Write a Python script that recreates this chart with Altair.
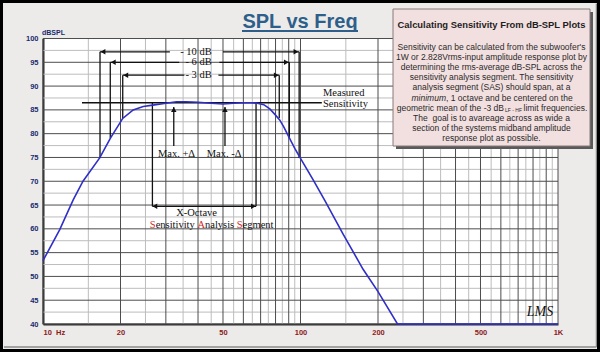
import altair as alt
import pandas as pd

# ---------------- data ----------------
freq = [10, 11.6, 13.1, 14.3, 16.6, 18.3, 20.4, 22.4, 24.5, 26.7, 30, 33, 36, 40, 45, 50, 55, 60,
        65, 68, 72, 76, 80, 83, 86, 90.5, 95, 100, 112, 125, 146, 175, 200, 238, 1000]
spl = [53.3, 59.8, 66.1, 70.0, 74.9, 79.1, 83.2, 85.0, 85.7, 86.0, 86.4, 86.7, 86.7, 86.6, 86.4, 86.25, 86.4, 86.5,
       86.5, 86.4, 86.1, 85.2, 83.9, 82.9, 81.5, 79.1, 76.9, 74.8, 70.3, 65.7, 59.0, 51.5, 46.8, 40.0, 40.0]

x_tick_values = [10, 20, 50, 100, 200, 500, 1000]
x_tick_labels = ["10\u00a0\u00a0Hz", "20", "50", "100", "200", "500", "1K"]
y_tick_values = [40, 45, 50, 55, 60, 65, 70, 75, 80, 85, 90, 95, 100]

x_grid_major = [10, 20, 30, 40, 50, 60, 70, 80, 90, 100, 200, 300, 400, 500, 600, 700, 800, 900, 1000]
x_grid_minor = [15, 25, 35, 45, 55, 65, 75, 85, 95, 150, 250, 350, 450, 550, 650, 750, 850, 950]
y_grid_major = y_tick_values
y_grid_minor = [42.5, 47.5, 52.5, 57.5, 62.5, 67.5, 72.5, 77.5, 82.5, 87.5, 92.5, 97.5]

# annotation segments (Hz, dB)
seg_f1 = [16.65, 98.8, 16.65, 50.0, 18.25, 90.5, 18.25, 48.4, 20.4, 82.7, 20.4, 48.0,
          14.17, 32.2, 50.9, 26.6, 67.2, 26.6]
seg_db1 = [97.2, 97.2, 97.2, 97.2, 95.0, 95.0, 95.0, 95.0, 92.3, 92.3, 92.3, 92.3,
           86.5, 85.6, 85.6, 86.5, 86.5, 64.74]
seg_f2 = [16.65, 98.8, 31.1, 98.8, 18.25, 90.5, 33.8, 90.5, 20.4, 82.7, 35.4, 82.7,
          121.0, 32.2, 50.9, 26.6, 67.2, 67.2]
seg_db2 = [74.9, 74.9, 97.2, 97.2, 79.1, 79.1, 95.0, 95.0, 83.3, 83.3, 92.3, 92.3,
           86.5, 77.4, 77.4, 64.74, 64.74, 64.74]

head_f = [17.1, 96.0, 18.75, 88.1, 20.97, 80.5, 32.2, 50.9, 27.2, 65.6]
head_db = [97.2, 97.2, 95.0, 95.0, 92.3, 92.3, 85.05, 85.05, 64.74, 64.74]
head_shape = ["triangle-left", "triangle-right", "triangle-left", "triangle-right",
              "triangle-left", "triangle-right", "triangle-up", "triangle-up",
              "triangle-left", "triangle-right"]

right_text = ["- 10 dB", "- 6 dB", "- 3 dB"]
right_f = [45.2, 45.2, 45.2]
right_db = [97.2, 95.0, 92.3]

left_text = ["Measured", "Sensitivity", "X-Octave"]
left_f = [122.3, 122.3, 32.9]
left_db = [88.46, 86.2, 63.33]

center_text = ["Max. +\u0394", "Max. -\u0394"]
center_f = [33.0, 50.5]
center_db = [75.68, 75.68]

sas_pieces = ["S", "ensitivity", "A", "nalysis", "S", "egment"]
sas_em = [0.556, 3.973, 0.722, 3.028, 0.556, 2.944]   # Times em widths incl. following space
sas_colors = ["#D42A2A", "#111111", "#D42A2A", "#111111", "#D42A2A", "#111111"]
sas_f = 26.0
sas_db = 60.74

box_title = "Calculating Sensitivity From dB-SPL Plots"
box_lines = [
    "Sensitivity can be calculated from the subwoofer's",
    "1W or 2.828Vrms-input amplitude response plot by",
    "determining the rms-average dB-SPL across the",
    "sensitivity analysis segment. The sensitivity",
    "analysis segment (SAS) should span, at a",
    None,
    None,
    "The\u00a0\u00a0goal is to avareage across as wide a",
    "section of the systems midband amplitude",
    "response plot as possible.",
]

# ---------------- layout constants ----------------
W, H = 515, 285.5
PL, PT = 43, 38.5
SERIF = "Liberation Serif"
SANS = "Liberation Sans"
FS = 10.5

xs = alt.Scale(type="log", domain=[10, 1000], nice=False)
ys = alt.Scale(domain=[40, 100], nice=False, zero=False)

label_expr = " : ".join(
    f"datum.value == {v} ? '{t}'" for v, t in zip(x_tick_values, x_tick_labels)) + " : ''"

x_axis = alt.Axis(values=x_tick_values, labelExpr=label_expr, title=None, ticks=False,
                  grid=False, domain=True, domainColor="#2a2a2a", domainWidth=2,
                  labelFont=SANS, labelFontWeight="bold", labelFontSize=7.5,
                  labelColor="#8B1A1A", labelPadding=4, labelOverlap=False,
                  labelFlush=False, labelBound=False,
                  labelAlign=alt.condition("datum.value <= 10", alt.value("left"), alt.value("center")))
y_axis = alt.Axis(values=y_tick_values, title=None, ticks=False, grid=False, domain=True,
                  domainColor="#2a2a2a", domainWidth=2,
                  labelFont=SANS, labelFontWeight="bold", labelFontSize=7.5,
                  labelColor="#1B2A6E", labelPadding=5, labelOverlap=False,
                  labelFlush=False, labelBound=False)


def X(field):
    return alt.X(field, type="quantitative", scale=xs, axis=x_axis)


def Y(field):
    return alt.Y(field, type="quantitative", scale=ys, axis=y_axis)


one = alt.Data(values=[{}])


def dtext(text, x, y, **kw):
    return alt.Chart(one).mark_text(text=text, **kw).encode(
        x=alt.value(x), y=alt.value(y))


def drect(x, x2, y, y2, **kw):
    return alt.Chart(one).mark_rect(**kw).encode(
        x=alt.value(x), x2=alt.value(x2), y=alt.value(y), y2=alt.value(y2))


# ---------------- grid ----------------
gx_minor = alt.Chart(pd.DataFrame({"f": x_grid_minor})).mark_rule(
    color="#bdbdbd", strokeWidth=1).encode(x=X("f"))
gy_minor = alt.Chart(pd.DataFrame({"d": y_grid_minor})).mark_rule(
    color="#bdbdbd", strokeWidth=1).encode(y=Y("d"))
gx_major = alt.Chart(pd.DataFrame({"f": x_grid_major})).mark_rule(
    color="#4d4d4d", strokeWidth=1).encode(x=X("f"))
gy_major = alt.Chart(pd.DataFrame({"d": y_grid_major})).mark_rule(
    color="#4d4d4d", strokeWidth=1).encode(y=Y("d"))

# ---------------- curve ----------------
curve_df = pd.DataFrame({"f": freq, "spl": spl})
curve = alt.Chart(curve_df).mark_line(color="#2F2FC8", strokeWidth=1.6).encode(
    x=X("f"), y=Y("spl"))

# ---------------- annotations ----------------
seg_df = pd.DataFrame({"f1": seg_f1, "d1": seg_db1, "f2": seg_f2, "d2": seg_db2})
segs = alt.Chart(seg_df).mark_rule(color="#111111", strokeWidth=1.3).encode(
    x=X("f1"), x2="f2", y=Y("d1"), y2="d2")

head_df = pd.DataFrame({"f": head_f, "d": head_db, "s": head_shape})
heads = alt.Chart(head_df).mark_point(filled=True, color="#111111", size=30, opacity=1).encode(
    x=X("f"), y=Y("d"), shape=alt.Shape("s:N", scale=None))

rt = alt.Chart(pd.DataFrame({"f": right_f, "d": right_db, "t": right_text})).mark_text(
    font=SERIF, fontSize=FS, align="right", baseline="middle", color="#111111").encode(
    x=X("f"), y=Y("d"), text="t:N")
lt = alt.Chart(pd.DataFrame({"f": left_f, "d": left_db, "t": left_text})).mark_text(
    font=SERIF, fontSize=FS, align="left", baseline="middle", color="#111111").encode(
    x=X("f"), y=Y("d"), text="t:N")
ct = alt.Chart(pd.DataFrame({"f": center_f, "d": center_db, "t": center_text})).mark_text(
    font=SERIF, fontSize=FS, align="center", baseline="middle", color="#111111").encode(
    x=X("f"), y=Y("d"), text="t:N")

sas_layers = []
acc = 0.0
for piece, w, col in zip(sas_pieces, sas_em, sas_colors):
    sas_layers.append(
        alt.Chart(pd.DataFrame({"f": [sas_f], "d": [sas_db], "t": [piece]})).mark_text(
            font=SERIF, fontSize=FS, align="left", baseline="middle", color=col, dx=acc
        ).encode(x=X("f"), y=Y("d"), text="t:N"))
    acc += w * FS

# ---------------- decorations ----------------
deco = []
deco.append(dtext("SPL vs Freq", 257, -10.8, font=SANS, fontSize=20, fontWeight="bold",
                  color="#2D5F8A", align="center", baseline="alphabetic"))
deco.append(drect(199, 315, -8.5, -6.5, color="#2D5F8A"))
deco.append(dtext("dBSPL", -1, -5.5, font=SANS, fontSize=7, fontWeight="bold",
                  color="#1B2A6E", align="left", baseline="middle"))
# info box
deco.append(drect(353, 550, -26.5, 110.5, color="#5a5a5a"))
deco.append(drect(350, 547, -29.5, 107.5, fill="#F2DFDF", stroke="#8a7a7a", strokeWidth=1))
bx = 448.5
deco.append(dtext(box_title, bx, -13.5, font=SANS, fontSize=9.4, fontWeight="bold",
                  color="#1e1e1e", align="center", baseline="middle"))
BFS = 8.5
for i, line in enumerate(box_lines):
    yy = 8.5 + 10.1 * i
    if line is not None:
        deco.append(dtext(line, bx, yy, font=SANS, fontSize=BFS, color="#2a2a2a",
                          align="center", baseline="middle"))
y6 = 8.5 + 10.1 * 5
deco.append(dtext("minimum", 403, y6, font=SANS, fontSize=BFS, fontStyle="italic",
                  color="#2a2a2a", align="right", baseline="middle"))
deco.append(dtext(", 1 octave and be centered on the", 403, y6, font=SANS, fontSize=BFS,
                  color="#2a2a2a", align="left", baseline="middle"))
y7 = 8.5 + 10.1 * 6
deco.append(dtext("geometric mean of the -3 dB", 461, y7, font=SANS, fontSize=BFS,
                  color="#2a2a2a", align="right", baseline="middle"))
deco.append(dtext("LF - HF", 462, y7 + 2.5, font=SANS, fontSize=5,
                  color="#2a2a2a", align="left", baseline="middle"))
deco.append(dtext("limit frequencies.", 480.5, y7, font=SANS, fontSize=BFS,
                  color="#2a2a2a", align="left", baseline="middle"))
deco.append(dtext("LMS", 497, 273.5, font=SERIF, fontSize=14, fontStyle="italic",
                  color="#111111", align="center", baseline="middle"))
# outer frame
deco.append(alt.Chart(one).mark_rule(color="#8a8a8a", strokeWidth=1.5).encode(
    x=alt.value(-39), x2=alt.value(553.5), y=alt.value(308.5)))
deco.append(alt.Chart(one).mark_rule(color="#8a8a8a", strokeWidth=1.5).encode(
    x=alt.value(553.5), y=alt.value(-35), y2=alt.value(308.5)))
deco.append(drect(-41.5, 555.5, -37, 312, filled=False, stroke="#000000", strokeWidth=3))

chart = alt.layer(
    gx_minor, gy_minor, gx_major, gy_major, segs, curve, heads, rt, lt, ct, *sas_layers, *deco
).properties(
    width=W, height=H,
    autosize=alt.AutoSizeParams(type="none"),
    padding={"left": PL, "top": PT, "right": 600 - PL - W, "bottom": 352 - PT - H},
    background="#ECEBEA",
).configure_view(stroke=None, fill="white")

chart.save("out.html", embed_options={"renderer": "svg", "actions": False})
